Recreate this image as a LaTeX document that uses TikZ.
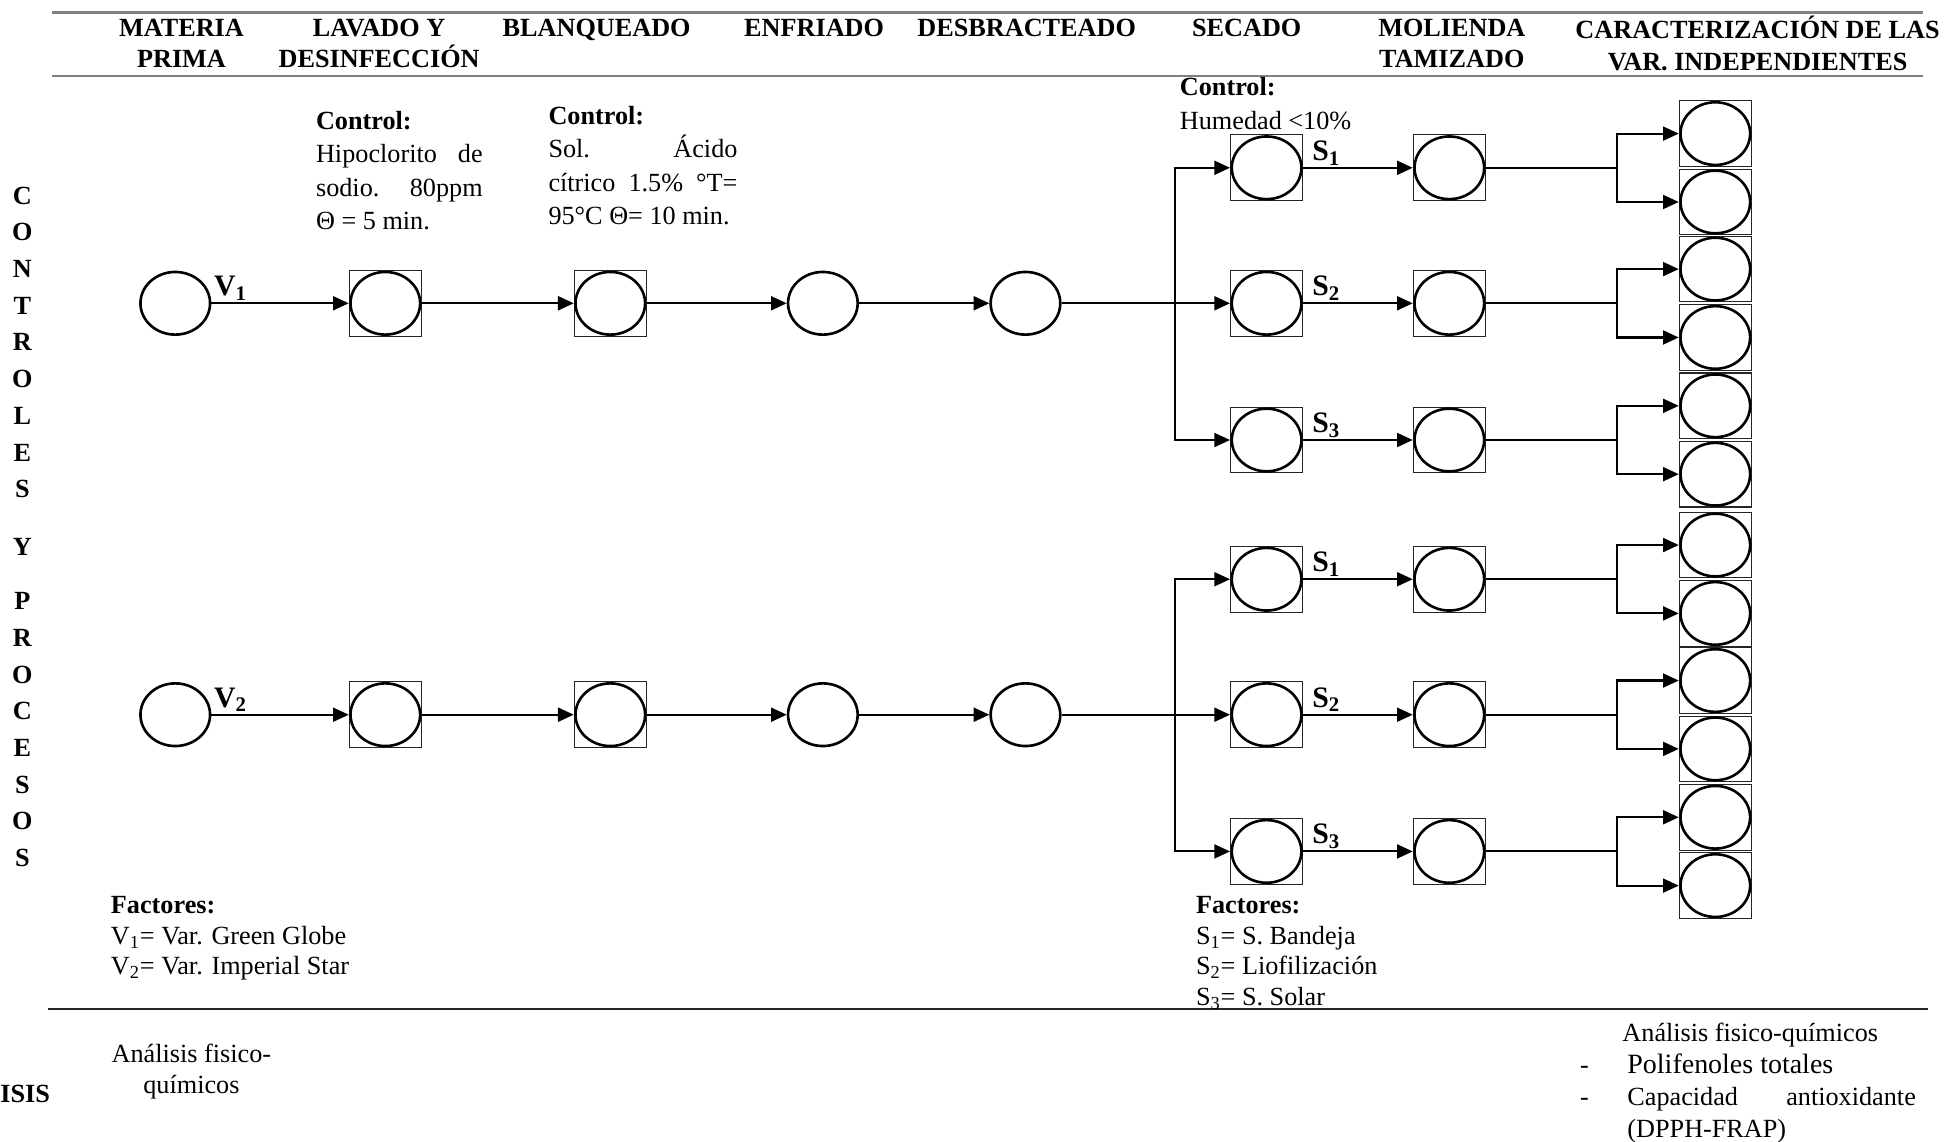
\documentclass[tikz,border=0pt]{standalone}
\usepackage{fontspec}
\setmainfont{Liberation Serif}
\usetikzlibrary{shapes.geometric,arrows.meta,positioning}

\tikzset{
  oval/.style={ellipse, draw, line width=1.5pt, minimum width=1.4cm, minimum height=1.26cm, inner sep=0pt},
  stage/.style={rectangle, draw=black!85, line width=0.6pt, minimum width=1.45cm, minimum height=1.32cm, inner sep=0pt, label={[oval]center:}},
  arr/.style={line width=1.2pt, -{Triangle[length=9pt,width=8pt]}},
  conn/.style={line width=1.2pt},
  rule/.style={line width=1.5pt, draw=black!50},
  hdr/.style={font=\fontsize{15}{18}\selectfont\bfseries, align=center, anchor=north, inner sep=0pt, execute at begin node=\strut},
  lab/.style={font=\fontsize{17}{19}\selectfont\bfseries, inner sep=1pt},
  txt/.style={font=\fontsize{15}{17.5}\selectfont, align=left, anchor=north west, inner sep=0pt, execute at begin node=\strut},
  ctl/.style={txt, font=\fontsize{15}{19.2}\selectfont},
}

\begin{document}
\begin{tikzpicture}[x=0.025cm, y=-0.025cm]
    \useasboundingbox (0,0) rectangle (1568,918);

    % rules of the table
    \draw[rule] (42,10) -- (1547,10);
    \draw[rule] (42,61) -- (1547,61);
    \draw[line width=1.2pt, black!85] (39,812) -- (1551,812);

    % column titles
    \node[hdr] (hMat) at (146,15) {MATERIA\\PRIMA};
    \node[hdr] (hLav) at (305,15) {LAVADO Y\\DESINFECCIÓN};
    \node[hdr] (hBla) at (480,11) {BLANQUEADO};
    \node[hdr] (hEnf) at (655,11) {ENFRIADO};
    \node[hdr] (hDes) at (826,11) {DESBRACTEADO};
    \node[hdr] (hSec) at (1003,11) {SECADO};
    \node[hdr] (hMol) at (1168,15) {MOLIENDA\\TAMIZADO};
    \node[hdr] (hCar) at (1414,13) {CARACTERIZACIÓN DE LAS\\VAR. INDEPENDIENTES};

    \node[font=\fontsize{15}{21}\selectfont\bfseries, align=center, anchor=north, inner sep=0pt,
          execute at begin node=\strut] (side) at (18,150)
        {C\\O\\N\\T\\R\\O\\L\\E\\S\\[12pt]Y\\[10pt]P\\R\\O\\C\\E\\S\\O\\S};
    \node[font=\fontsize{15}{18}\selectfont\bfseries, anchor=west, inner sep=0pt] (isis) at (0,880) {ISIS};

    % controls
    \node[ctl] (ctlLav) at (254,89) {\textbf{Control:}\\
        \makebox[3.35cm][s]{Hipoclorito de}\\ \makebox[3.35cm][s]{sodio. 80ppm}\\ Θ = 5 min.};
    \node[ctl] (ctlBla) at (441,85) {\textbf{Control:}\\
        \makebox[3.8cm][s]{Sol. Ácido}\\ \makebox[3.8cm][s]{cítrico 1.5\% °T=}\\ 95°C Θ= 10 min.};
    \node[ctl] (ctlSec) at (949,62) {\textbf{Control:}\\ Humedad <10\%};

    % branch points
    \coordinate (brL) at (945,0);
    \coordinate (brR) at (1301,0);

    \foreach \vn/\y in {1/244, 2/575} {
      \node[oval] (V\vn) at (141,\y) {};
      \node[stage] (L\vn) at (310,\y) {};
      \node[stage] (B\vn) at (491,\y) {};
      \node[oval] (E\vn) at (662,\y) {};
      \node[oval] (D\vn) at (825,\y) {};
      \draw[arr] (V\vn) -- (L\vn) node[lab, pos=0.14, above] {V\textsubscript{\vn}};
      \draw[arr] (L\vn) -- (B\vn);
      \draw[arr] (B\vn) -- (E\vn);
      \draw[arr] (E\vn) -- (D\vn);
      \draw[conn] (D\vn) -- (D\vn -| brL);
      \foreach \sn/\dy in {1/-109, 2/0, 3/110} {
        \node[stage] (S\vn\sn) at (1019,\y+\dy) {};
        \node[stage] (M\vn\sn) at (1166,\y+\dy) {};
        \node[stage] (R\vn\sn a) at (1380,\y+\dy-27.5) {};
        \node[stage] (R\vn\sn b) at (1380,\y+\dy+27.5) {};
        \draw[arr] (D\vn -| brL) |- (S\vn\sn);
        \draw[arr] (S\vn\sn) -- (M\vn\sn) node[lab, pos=0.21, above] {S\textsubscript{\sn}};
        \draw[conn] (M\vn\sn) -- (M\vn\sn -| brR);
        \draw[arr] (M\vn\sn -| brR) |- (R\vn\sn a);
        \draw[arr] (M\vn\sn -| brR) |- (R\vn\sn b);
      }
    }

    % factors and analyses
    \node[txt] (facV) at (89,721) {\textbf{Factores:}\\
        V\textsubscript{1}= Var. Green Globe\\ V\textsubscript{2}= Var. Imperial Star};
    \node[txt] (facS) at (962,721) {\textbf{Factores:}\\
        S\textsubscript{1}= S. Bandeja\\ S\textsubscript{2}= Liofilización\\ S\textsubscript{3}= S. Solar};
    \node[txt, align=center, anchor=north] (anaV) at (154,840) {Análisis fisico-\\químicos};
    \node[txt, font=\fontsize{15}{18.2}\selectfont] (anaR) at (1271,823) {\hspace*{0.85cm}Análisis fisico-químicos\\
        \makebox[0.95cm][l]{-}{\fontsize{16}{18.2}\selectfont Polifenoles totales}\\
        \makebox[0.95cm][l]{-}\makebox[5.8cm][s]{Capacidad antioxidante}\\
        \hspace*{0.95cm}(DPPH-FRAP)};
  \end{tikzpicture}
\end{document}
